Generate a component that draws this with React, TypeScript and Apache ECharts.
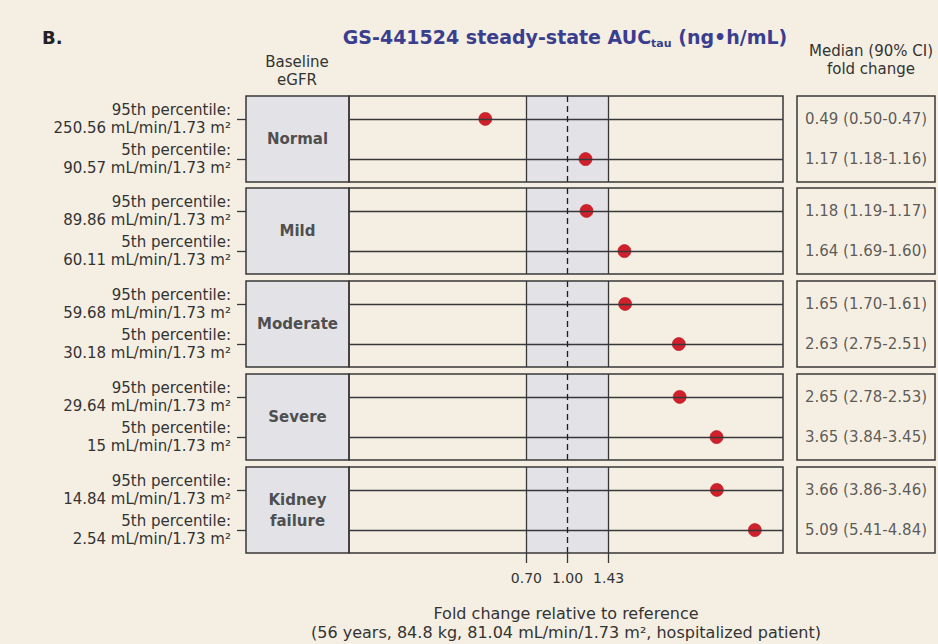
import { useEffect, useRef } from 'react';
import * as echarts from 'echarts';

// eGFR groups and the two renal-function percentiles shown in each
const groups = ['Normal', 'Mild', 'Moderate', 'Severe', 'Kidney\nfailure'];
const percentileNames = ['95th percentile:', '5th percentile:'];
const egfrValues = ['250.56', '90.57', '89.86', '60.11', '59.68', '30.18', '29.64', '15', '14.84', '2.54'];

// Fold change of GS-441524 AUCtau: median and 90% CI bounds, two rows per group
const medianFold = [0.49, 1.17, 1.18, 1.64, 1.65, 2.63, 2.65, 3.65, 3.66, 5.09];
const ciUpper = [0.5, 1.18, 1.19, 1.69, 1.7, 2.75, 2.78, 3.84, 3.86, 5.41];
const ciLower = [0.47, 1.16, 1.17, 1.6, 1.61, 2.51, 2.53, 3.45, 3.46, 4.84];

// Reference band and tick marks on the fold-change axis
const bandLimits = [0.7, 1.43];
const referenceFold = 1.0;
const foldTicks = [0.7, 1.0, 1.43];

const AXIS_TITLE =
  'Fold change relative to reference\n(56 years, 84.8 kg, 81.04 mL/min/1.73 m², hospitalized patient)';

// layout
const PANEL_TOPS = [96, 188, 281, 374, 467];
const PANEL_H = 86;
const BOX_L = 246;
const BOX_W = 103;
const PLOT_L = 349;
const PLOT_W = 434;
const TBL_L = 797;
const TBL_W = 138;
const Y_MIN = 0.43;
const Y_MAX = 2.57;
const X_MIN = 0.15;
const X_MAX = 6.5;

// colours
const BG = '#f5efe3';
const BOX_FILL = '#e2e2e7';
const LINE = '#383838';
const TEXT = '#333333';
const DOT = '#d0202b';
const TITLE_BLUE = '#3b3e8f';
const FONT = "'DejaVu Sans', sans-serif";

function buildOption() {
  const grid: any[] = [];
  const xAxis: any[] = [];
  const yAxis: any[] = [];
  const series: any[] = [];

  groups.forEach((name, g) => {
    const top = PANEL_TOPS[g];
    const last = g === groups.length - 1;
    const rows = [2 * g, 2 * g + 1];
    const gi = 3 * g;
    const frame = { show: true, borderColor: LINE, borderWidth: 1.5, outerBoundsMode: 'none' };

    grid.push({ ...frame, left: BOX_L, top, width: BOX_W, height: PANEL_H, backgroundColor: BOX_FILL });
    grid.push({ ...frame, left: PLOT_L, top, width: PLOT_W, height: PANEL_H, backgroundColor: 'transparent', z: 10 });
    grid.push({ ...frame, left: TBL_L, top, width: TBL_W, height: PANEL_H, backgroundColor: 'transparent' });

    xAxis.push({ gridIndex: gi, type: 'value', min: 0, max: 1, show: false });
    xAxis.push({
      gridIndex: gi + 1,
      type: 'log',
      logBase: 10,
      min: X_MIN,
      max: X_MAX,
      show: last,
      axisLine: { show: false },
      splitLine: { show: false },
      axisTick: { show: true, customValues: foldTicks, length: 10, lineStyle: { color: LINE, width: 1.3 } },
      axisLabel: {
        show: true,
        customValues: foldTicks,
        formatter: (v: number) => Number(v).toFixed(2),
        margin: 18,
        fontSize: 14,
        fontFamily: FONT,
        color: TEXT,
      },
      name: last ? AXIS_TITLE : '',
      nameLocation: 'middle',
      nameGap: 51,
      nameTextStyle: { fontSize: 16, lineHeight: 19, fontFamily: FONT, color: TEXT },
    });
    xAxis.push({ gridIndex: gi + 2, type: 'value', min: 0, max: 1, show: false });

    yAxis.push({
      gridIndex: gi,
      type: 'value',
      min: Y_MIN,
      max: Y_MAX,
      inverse: true,
      axisLine: { show: false },
      splitLine: { show: false },
      axisTick: { show: true, customValues: [1, 2], length: 9, lineStyle: { color: LINE, width: 1.3 } },
      axisLabel: {
        show: true,
        customValues: [1, 2],
        formatter: (v: number) => {
          const k = Math.round(v) - 1;
          return `${percentileNames[k]}\n${egfrValues[rows[k]]} mL/min/1.73 m²`;
        },
        margin: 15,
        fontSize: 15,
        lineHeight: 17.5,
        fontFamily: FONT,
        color: TEXT,
        align: 'right',
      },
    });
    yAxis.push({ gridIndex: gi + 1, type: 'value', min: Y_MIN, max: Y_MAX, inverse: true, show: false });
    yAxis.push({ gridIndex: gi + 2, type: 'value', min: Y_MIN, max: Y_MAX, inverse: true, show: false });

    // group name inside the grey box
    series.push({
      type: 'scatter',
      xAxisIndex: gi,
      yAxisIndex: gi,
      silent: true,
      symbolSize: 1,
      itemStyle: { color: 'rgba(0,0,0,0)' },
      data: [[0.5, 1.5]],
      label: {
        show: true,
        position: 'inside',
        formatter: () => name,
        fontSize: 15,
        fontWeight: 'bold',
        lineHeight: 21,
        fontFamily: FONT,
        color: '#262626',
      },
    });

    // shaded reference band
    series.push({
      type: 'scatter',
      xAxisIndex: gi + 1,
      yAxisIndex: gi + 1,
      z: 1,
      silent: true,
      data: [],
      markArea: {
        silent: true,
        itemStyle: { color: BOX_FILL },
        data: [[{ xAxis: bandLimits[0] }, { xAxis: bandLimits[1] }]],
      },
    });

    // row guide lines, band edges and the dashed reference line
    series.push({
      type: 'scatter',
      xAxisIndex: gi + 1,
      yAxisIndex: gi + 1,
      z: 2,
      silent: true,
      data: [],
      markLine: {
        silent: true,
        symbol: ['none', 'none'],
        label: { show: false },
        emphasis: { disabled: true },
        lineStyle: { color: LINE, width: 1.3, type: 'solid' },
        data: [
          { yAxis: 1 },
          { yAxis: 2 },
          { xAxis: bandLimits[0] },
          { xAxis: bandLimits[1] },
          { xAxis: referenceFold, lineStyle: { type: [6, 4], color: '#1e1e1e', width: 1.3 } },
        ],
      },
    });

    // median fold change
    series.push({
      type: 'scatter',
      xAxisIndex: gi + 1,
      yAxisIndex: gi + 1,
      z: 3,
      symbolSize: 13,
      itemStyle: { color: DOT, opacity: 1, borderColor: '#b3121c', borderWidth: 0.6 },
      data: rows.map((r, k) => [medianFold[r], k + 1]),
    });

    // median (90% CI) text column
    series.push({
      type: 'scatter',
      xAxisIndex: gi + 2,
      yAxisIndex: gi + 2,
      silent: true,
      symbolSize: 1,
      itemStyle: { color: 'rgba(0,0,0,0)' },
      data: rows.map((_r, k) => [0.5, k + 1]),
      label: {
        show: true,
        position: 'inside',
        formatter: (p: any) => {
          const r = rows[p.dataIndex];
          return `${medianFold[r].toFixed(2)} (${ciUpper[r].toFixed(2)}-${ciLower[r].toFixed(2)})`;
        },
        fontSize: 15,
        fontFamily: FONT,
        color: TEXT,
      },
    });
  });

  return {
    animation: false,
    backgroundColor: BG,
    textStyle: { fontFamily: FONT },
    title: [
      {
        text: '{a|GS-441524 steady-state AUC}{s|tau}{a| (ng•h/mL)}',
        left: 565,
        top: 25,
        textAlign: 'center',
        padding: 0,
        textStyle: {
          rich: {
            a: { fontFamily: FONT, fontWeight: 'bold', fontSize: 19, color: TITLE_BLUE, lineHeight: 24 },
            s: {
              fontFamily: FONT,
              fontWeight: 'bold',
              fontSize: 11,
              color: TITLE_BLUE,
              lineHeight: 14,
              verticalAlign: 'bottom',
            },
          },
        },
      },
    ],
    graphic: [
      {
        type: 'text',
        x: 42,
        y: 37,
        style: { text: 'B.', fontFamily: FONT, fontWeight: 'bold', fontSize: 18, fill: '#222', verticalAlign: 'middle' },
      },
      {
        type: 'text',
        x: 297,
        y: 71,
        style: {
          text: 'Baseline\neGFR',
          fontFamily: FONT,
          fontSize: 15,
          lineHeight: 17.5,
          fill: TEXT,
          align: 'center',
          verticalAlign: 'middle',
        },
      },
      {
        type: 'text',
        x: 871,
        y: 60,
        style: {
          text: 'Median (90% CI)\nfold change',
          fontFamily: FONT,
          fontSize: 15,
          lineHeight: 17.5,
          fill: TEXT,
          align: 'center',
          verticalAlign: 'middle',
        },
      },
    ],
    grid,
    xAxis,
    yAxis,
    series,
  };
}

export default function App() {
  const ref = useRef<HTMLDivElement>(null);

  useEffect(() => {
    document.body.style.margin = '0';
    document.body.style.background = BG;
    if (!ref.current) return;
    const chart = echarts.init(ref.current, undefined, { renderer: 'svg' });
    chart.setOption(buildOption() as any);
    return () => chart.dispose();
  }, []);

  return <div ref={ref} style={{ width: 938, height: 644, background: BG }} />;
}
